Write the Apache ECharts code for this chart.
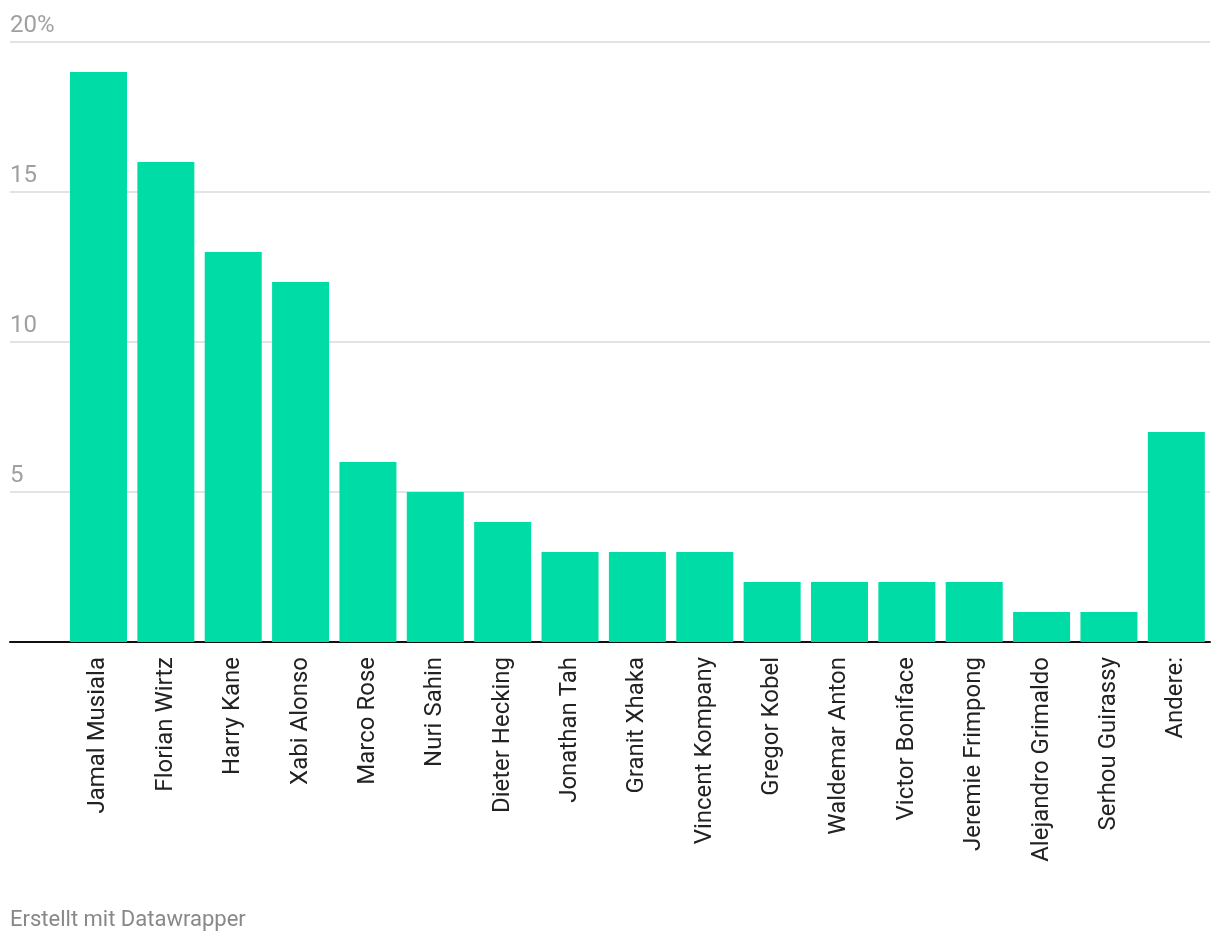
<!DOCTYPE html>
<html><head><meta charset="utf-8">
<script src="https://cdn.jsdelivr.net/npm/echarts@6/dist/echarts.min.js"></script>
<style>html,body{margin:0;padding:0;background:#fff;}#c{width:1220px;height:944px;}</style>
</head><body><div id="c"></div>
<script>
const categories = ["Jamal Musiala","Florian Wirtz","Harry Kane","Xabi Alonso","Marco Rose","Nuri Sahin","Dieter Hecking","Jonathan Tah","Granit Xhaka","Vincent Kompany","Gregor Kobel","Waldemar Anton","Victor Boniface","Jeremie Frimpong","Alejandro Grimaldo","Serhou Guirassy","Andere:"];
const values = [19,16,13,12,6,5,4,3,3,3,2,2,2,2,1,1,7];
const yTicks = [0,5,10,15,20];
const footer = "Erstellt mit Datawrapper";

const chart = echarts.init(document.getElementById('c'));
const font = 'Roboto';
chart.setOption({
  animation:false,
  textStyle:{fontFamily:font},
  graphic:[{type:'text',x:10,y:920,style:{text:footer,font:'22px Roboto',fill:'#888888',verticalAlign:'middle'}}],
  grid:[
    {left:10,right:10,top:42,bottom:302},
    {left:64.8,right:10,top:42,bottom:302}
  ],
  xAxis:[
    {gridIndex:0,type:'value',min:0,max:1,axisLine:{show:true,onZero:false,lineStyle:{color:'#111',width:2}},axisTick:{show:false},axisLabel:{show:false},splitLine:{show:false}},
    {gridIndex:1,type:'category',data:categories,axisLine:{show:false},axisTick:{show:false},
     axisLabel:{rotate:90,interval:0,margin:15,fontSize:24,color:'#222',fontFamily:font}}
  ],
  yAxis:[
    {gridIndex:0,type:'value',min:yTicks[0],max:yTicks[yTicks.length-1],interval:5,
     axisLine:{show:false},axisTick:{show:false},
     splitLine:{lineStyle:{color:'#e3e3e3',width:2}},
     axisLabel:{inside:true,margin:0,align:'left',verticalAlign:'bottom',padding:[0,0,4,0],fontSize:24,color:'#a0a0a0',fontFamily:font,
       formatter:v=>v===0?'':(v===20?v+'%':String(v))}},
    {gridIndex:1,type:'value',min:0,max:20,show:false}
  ],
  series:[{type:'bar',xAxisIndex:1,yAxisIndex:1,data:values,barWidth:57,itemStyle:{color:'#00dca6'}}]
});
</script></body></html>
